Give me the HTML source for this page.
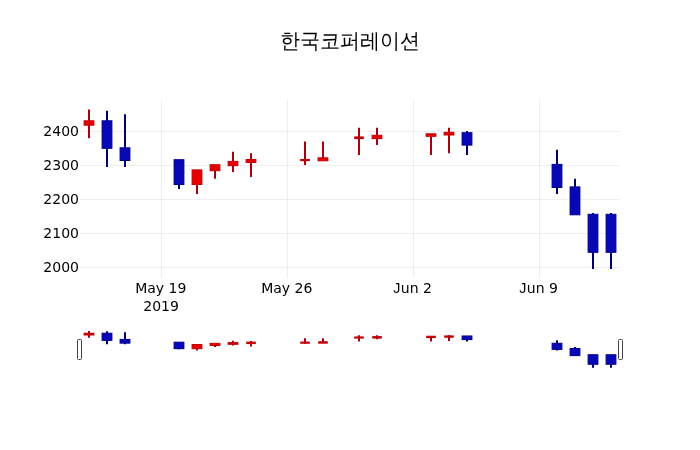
<!DOCTYPE html>
<html lang="ko">
<head>
<meta charset="utf-8">
<title>한국코퍼레이션</title>
<style>
html,body{margin:0;padding:0;background:#fff;}
body{width:700px;height:450px;overflow:hidden;}
svg{display:block;}
.t{font-family:"DejaVu Sans","Liberation Sans",sans-serif;font-size:14px;fill:#000;}
.j{font-family:"Liberation Sans",sans-serif;font-size:14.2px;}
.title{font-family:"Liberation Sans","WenQuanYi Zen Hei",sans-serif;font-size:20px;fill:#000;}
</style>
</head>
<body>
<svg width="700" height="450" viewBox="0 0 700 450">
<rect x="0" y="0" width="700" height="450" fill="#fff"/>
<g shape-rendering="crispEdges">
<path d="M161.5,100V278" stroke="#eee" stroke-width="1"/>
<path d="M287.5,100V278" stroke="#eee" stroke-width="1"/>
<path d="M413.5,100V278" stroke="#eee" stroke-width="1"/>
<path d="M539.5,100V278" stroke="#eee" stroke-width="1"/>
<path d="M80,131.5H620" stroke="#eee" stroke-width="1"/>
<path d="M80,165.5H620" stroke="#eee" stroke-width="1"/>
<path d="M80,199.5H620" stroke="#eee" stroke-width="1"/>
<path d="M80,233.5H620" stroke="#eee" stroke-width="1"/>
<path d="M80,267.5H620" stroke="#eee" stroke-width="1"/>
</g>
<g>
<path d="M89,124.7V138.3M89,121.3V109.4" fill="none" stroke="#AA0010" stroke-width="2"/>
<rect x="84.09" y="120.8" width="9.82" height="4.4" fill="#E40000" stroke="#C20008" stroke-width="1"/>
<path d="M107,147.8V167M107,121.3V110.8" fill="none" stroke="#000070" stroke-width="2"/>
<rect x="102.09" y="120.8" width="9.82" height="27.5" fill="#0707B6" stroke="#00008E" stroke-width="1"/>
<path d="M125,160V167M125,148.3V114.3" fill="none" stroke="#000070" stroke-width="2"/>
<rect x="120.09" y="147.8" width="9.82" height="12.7" fill="#0707B6" stroke="#00008E" stroke-width="1"/>
<path d="M179,184V189" fill="none" stroke="#000070" stroke-width="2"/>
<rect x="174.09" y="159.7" width="9.82" height="24.8" fill="#0707B6" stroke="#00008E" stroke-width="1"/>
<path d="M197,184V194" fill="none" stroke="#AA0010" stroke-width="2"/>
<rect x="192.09" y="169.9" width="9.82" height="14.6" fill="#E40000" stroke="#C20008" stroke-width="1"/>
<path d="M215,170.2V178.7" fill="none" stroke="#AA0010" stroke-width="2"/>
<rect x="210.09" y="164.7" width="9.82" height="6" fill="#E40000" stroke="#C20008" stroke-width="1"/>
<path d="M233,165.2V172M233,161.9V151.7" fill="none" stroke="#AA0010" stroke-width="2"/>
<rect x="228.09" y="161.4" width="9.82" height="4.3" fill="#E40000" stroke="#C20008" stroke-width="1"/>
<path d="M251,161.9V177M251,160V153.3" fill="none" stroke="#AA0010" stroke-width="2"/>
<rect x="246.09" y="159.5" width="9.82" height="2.9" fill="#E40000" stroke="#C20008" stroke-width="1"/>
<path d="M305,160.2V165M305,160V141.4" fill="none" stroke="#AA0010" stroke-width="2"/>
<rect x="300.19" y="159" width="9.62" height="2.2" fill="#C20008"/>
<path d="M323,158.3V141.4" fill="none" stroke="#AA0010" stroke-width="2"/>
<rect x="318.09" y="157.8" width="9.82" height="3" fill="#E40000" stroke="#C20008" stroke-width="1"/>
<path d="M359,138.1V155M359,137.4V127.8" fill="none" stroke="#AA0010" stroke-width="2"/>
<rect x="354.19" y="136.4" width="9.62" height="2.7" fill="#C20008"/>
<path d="M377,138.1V145M377,135.8V127.8" fill="none" stroke="#AA0010" stroke-width="2"/>
<rect x="372.09" y="135.3" width="9.82" height="3.3" fill="#E40000" stroke="#C20008" stroke-width="1"/>
<path d="M431,135.8V155" fill="none" stroke="#AA0010" stroke-width="2"/>
<rect x="426.09" y="133.8" width="9.82" height="2.5" fill="#E40000" stroke="#C20008" stroke-width="1"/>
<path d="M449,134.5V153.2M449,132.8V127.8" fill="none" stroke="#AA0010" stroke-width="2"/>
<rect x="444.09" y="132.3" width="9.82" height="2.7" fill="#E40000" stroke="#C20008" stroke-width="1"/>
<path d="M467,144.6V155M467,133.2V131" fill="none" stroke="#000070" stroke-width="2"/>
<rect x="462.09" y="132.7" width="9.82" height="12.4" fill="#0707B6" stroke="#00008E" stroke-width="1"/>
<path d="M557,187V194M557,164.9V149.8" fill="none" stroke="#000070" stroke-width="2"/>
<rect x="552.09" y="164.4" width="9.82" height="23.1" fill="#0707B6" stroke="#00008E" stroke-width="1"/>
<path d="M575,187.4V178.8" fill="none" stroke="#000070" stroke-width="2"/>
<rect x="570.09" y="186.9" width="9.82" height="27.9" fill="#0707B6" stroke="#00008E" stroke-width="1"/>
<path d="M593,251.8V268.9M593,214.8V213" fill="none" stroke="#000070" stroke-width="2"/>
<rect x="588.09" y="214.3" width="9.82" height="38" fill="#0707B6" stroke="#00008E" stroke-width="1"/>
<path d="M611,251.8V268.9M611,214.8V213" fill="none" stroke="#000070" stroke-width="2"/>
<rect x="606.09" y="214.3" width="9.82" height="38" fill="#0707B6" stroke="#00008E" stroke-width="1"/>
</g>
<g class="t">
<text x="79" y="136.4" text-anchor="end">2400</text>
<text x="79" y="170.4" text-anchor="end">2300</text>
<text x="79" y="204.4" text-anchor="end">2200</text>
<text x="79" y="238.4" text-anchor="end">2100</text>
<text x="79" y="272.4" text-anchor="end">2000</text>
<text x="160.8" y="293" text-anchor="middle">May 19</text>
<text x="286.8" y="293" text-anchor="middle">May 26</text>
<text x="393.3" y="293"><tspan class="j">J</tspan><tspan dx="0.4">un 2</tspan></text>
<text x="519.3" y="293"><tspan class="j">J</tspan><tspan dx="0.4">un 9</tspan></text>
<text x="161.1" y="311.2" text-anchor="middle">2019</text>
</g>
<text class="title" x="350" y="48.6" text-anchor="middle" transform="translate(0,51.4) scale(1,1.06) translate(0,-51.4)">한국코퍼레이션</text>
<g>
<path d="M89,334.52V337.65M89,333.74V331" fill="none" stroke="#AA0010" stroke-width="2"/>
<rect x="83.59" y="332.74" width="10.82" height="2.78" fill="#C20008"/>
<path d="M107,339.84V344.25M107,333.74V331.32" fill="none" stroke="#000070" stroke-width="2"/>
<rect x="102.09" y="333.24" width="9.82" height="7.1" fill="#0707B6" stroke="#00008E" stroke-width="1"/>
<path d="M125,342.64V344.25M125,339.95V332.13" fill="none" stroke="#000070" stroke-width="2"/>
<rect x="120.09" y="339.45" width="9.82" height="3.69" fill="#0707B6" stroke="#00008E" stroke-width="1"/>
<path d="M179,348.17V349.32" fill="none" stroke="#000070" stroke-width="2"/>
<rect x="174.09" y="342.19" width="9.82" height="6.48" fill="#0707B6" stroke="#00008E" stroke-width="1"/>
<path d="M197,348.17V350.47" fill="none" stroke="#AA0010" stroke-width="2"/>
<rect x="192.09" y="344.54" width="9.82" height="4.13" fill="#E40000" stroke="#C20008" stroke-width="1"/>
<path d="M215,344.99V346.95" fill="none" stroke="#AA0010" stroke-width="2"/>
<rect x="210.09" y="343.34" width="9.82" height="2.15" fill="#E40000" stroke="#C20008" stroke-width="1"/>
<path d="M233,343.84V345.4M233,343.08V340.73" fill="none" stroke="#AA0010" stroke-width="2"/>
<rect x="227.59" y="342.08" width="10.82" height="2.76" fill="#C20008"/>
<path d="M251,343.08V346.55M251,342.64V341.1" fill="none" stroke="#AA0010" stroke-width="2"/>
<rect x="246.19" y="341.64" width="9.62" height="2.44" fill="#C20008"/>
<path d="M305,342.77V343.79M305,342.57V338.36" fill="none" stroke="#AA0010" stroke-width="2"/>
<rect x="300.19" y="341.57" width="9.62" height="2.2" fill="#C20008"/>
<path d="M323,342.25V338.36" fill="none" stroke="#AA0010" stroke-width="2"/>
<rect x="318.19" y="341.25" width="9.62" height="2.46" fill="#C20008"/>
<path d="M359,337.62V341.49M359,337.42V335.23" fill="none" stroke="#AA0010" stroke-width="2"/>
<rect x="354.19" y="336.42" width="9.62" height="2.2" fill="#C20008"/>
<path d="M377,337.6V339.19M377,337.07V335.23" fill="none" stroke="#AA0010" stroke-width="2"/>
<rect x="372.19" y="336.07" width="9.62" height="2.53" fill="#C20008"/>
<path d="M431,337.07V341.49" fill="none" stroke="#AA0010" stroke-width="2"/>
<rect x="426.19" y="335.73" width="9.62" height="2.35" fill="#C20008"/>
<path d="M449,336.78V341.08M449,336.38V335.23" fill="none" stroke="#AA0010" stroke-width="2"/>
<rect x="444.19" y="335.38" width="9.62" height="2.39" fill="#C20008"/>
<path d="M467,339.1V341.49M467,336.48V335.97" fill="none" stroke="#000070" stroke-width="2"/>
<rect x="462.09" y="335.98" width="9.82" height="3.62" fill="#0707B6" stroke="#00008E" stroke-width="1"/>
<path d="M557,348.86V350.47M557,343.77V340.3" fill="none" stroke="#000070" stroke-width="2"/>
<rect x="552.09" y="343.27" width="9.82" height="6.09" fill="#0707B6" stroke="#00008E" stroke-width="1"/>
<path d="M575,348.95V346.97" fill="none" stroke="#000070" stroke-width="2"/>
<rect x="570.09" y="348.45" width="9.82" height="7.19" fill="#0707B6" stroke="#00008E" stroke-width="1"/>
<path d="M593,363.77V367.7M593,355.25V354.84" fill="none" stroke="#000070" stroke-width="2"/>
<rect x="588.09" y="354.75" width="9.82" height="9.51" fill="#0707B6" stroke="#00008E" stroke-width="1"/>
<path d="M611,363.77V367.7M611,355.25V354.84" fill="none" stroke="#000070" stroke-width="2"/>
<rect x="606.09" y="354.75" width="9.82" height="9.51" fill="#0707B6" stroke="#00008E" stroke-width="1"/>
</g>
<rect x="77.5" y="339.5" width="4" height="20" rx="1" ry="1" fill="#fff" stroke="#444" stroke-width="1"/>
<rect x="618.5" y="339.5" width="4" height="20" rx="1" ry="1" fill="#fff" stroke="#444" stroke-width="1"/>
</svg>
</body>
</html>
